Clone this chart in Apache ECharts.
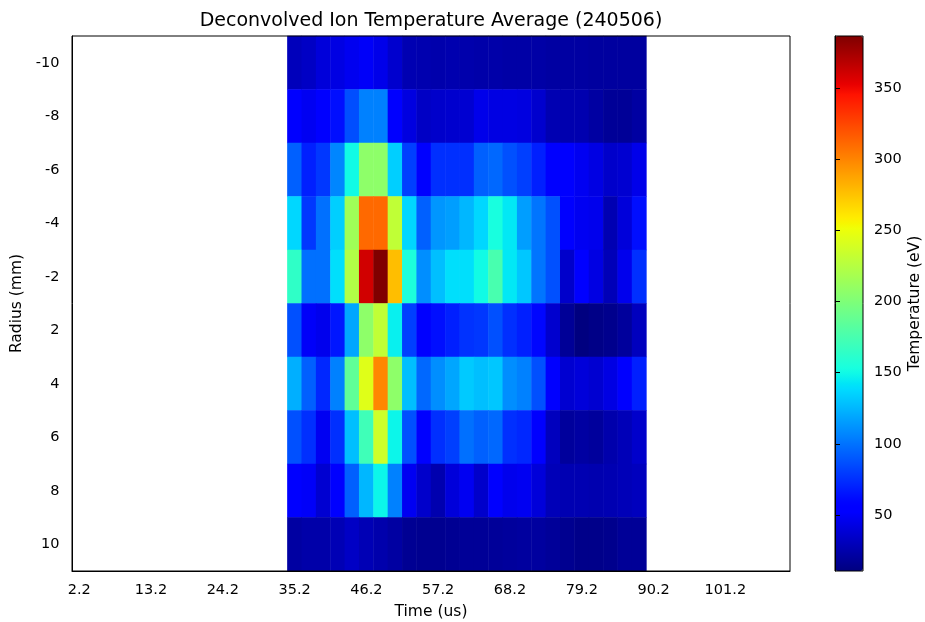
<!DOCTYPE html>
<html>
<head>
<meta charset="utf-8">
<script src="https://cdn.jsdelivr.net/npm/echarts@6/dist/echarts.min.js"></script>
<style>html,body{margin:0;padding:0;background:#fff}#c{width:925px;height:622px}</style>
</head>
<body>
<div id="c"></div>
<script>
// Time axis categories (us)
const timeCategories = ['2.2','4.4','6.6','8.8','11.0','13.2','15.4','17.6','19.8','22.0','24.2','26.4','28.6','30.8','33.0','35.2','37.4','39.6','41.8','44.0','46.2','48.4','50.6','52.8','55.0','57.2','59.4','61.6','63.8','66.0','68.2','70.4','72.6','74.8','77.0','79.2','81.4','83.6','85.8','88.0','90.2','92.4','94.6','96.8','99.0','101.2','103.4','105.6','107.8','110.0'];
// Times that have measurements
const measuredTimes = ['35.2','37.4','39.6','41.8','44.0','46.2','48.4','50.6','52.8','55.0','57.2','59.4','61.6','63.8','66.0','68.2','70.4','72.6','74.8','77.0','79.2','81.4','83.6','85.8','88.0'];
// Radius categories (mm), top to bottom
const radii = ['-10','-8','-6','-4','-2','2','4','6','8','10'];
// Temperature (eV) per radius
const tempM10 = [30,33,40,43,47,50,45,36,27,26,25,26,25,24,24,23,23,23,22,22,22,21,21,21,21];
const tempM8  = [52,48,52,63,86,105,105,52,42,33,35,36,37,45,43,43,42,36,27,26,26,22,18,18,22];
const tempM6  = [93,69,78,107,150,207,207,134,81,52,75,75,75,93,96,87,81,69,52,52,48,43,35,37,45];
const tempM4  = [137,78,99,134,215,311,311,230,137,93,113,116,125,137,153,143,116,101,87,52,48,46,27,40,63];
const tempM2  = [164,99,99,140,223,360,386.5,277,155,110,128,140,140,150,175,143,131,101,87,35,52,43,29,46,75];
const tempP2  = [87,50,46,66,119,207,230,146,81,52,63,69,76,78,87,75,69,60,36,18,10.6,13,15,20,31];
const tempP4  = [122,93,72,105,186,244,299,207,128,96,110,119,132,128,131,110,105,87,52,37,40,37,43,52,69];
const tempP6  = [87,75,48,75,128,171,236,148,87,52,75,81,99,93,96,75,72,52,31,20,22,20,25,29,35];
const tempP8  = [52,50,37,57,93,125,148,105,48,35,26,40,48,35,52,46,48,40,29,27,27,26,27,29,31];
const tempP10 = [22,24,24,28,33,28,25,22,17,16,16,17,18,18,19,20,21,21,19,16,14,14,15,18,18];
// Colorbar ticks
const cbarTicks = [50,100,150,200,250,300,350];

const rows = [tempM10,tempM8,tempM6,tempM4,tempM2,tempP2,tempP4,tempP6,tempP8,tempP10];
const heatData = [];
rows.forEach((row, yi) => {
  row.forEach((v, k) => {
    heatData.push([timeCategories.indexOf(measuredTimes[k]), yi, v]);
  });
});
let vMin = Infinity, vMax = -Infinity;
rows.forEach(r => r.forEach(v => { vMin = Math.min(vMin, v); vMax = Math.max(vMax, v); }));

// matplotlib 'jet' colormap
function interpSeg(seg, t) {
  for (let i = 1; i < seg.length; i++) {
    if (t <= seg[i][0]) {
      const [x0, y0] = seg[i-1], [x1, y1] = seg[i];
      return y0 + (y1 - y0) * (t - x0) / (x1 - x0);
    }
  }
  return seg[seg.length-1][1];
}
const jR = [[0,0],[0.35,0],[0.66,1],[0.89,1],[1,0.5]];
const jG = [[0,0],[0.125,0],[0.375,1],[0.64,1],[0.91,0],[1,0]];
const jB = [[0,0.5],[0.11,1],[0.34,1],[0.65,0],[1,0]];
const jetColors = [];
for (let i = 0; i <= 200; i++) {
  const t = i / 200;
  const c = [jR, jG, jB].map(s => Math.round(255 * interpSeg(s, t)));
  jetColors.push('rgb(' + c.join(',') + ')');
}

const FONT = 'DejaVu Sans';
const txt = { color: '#000', fontFamily: FONT, fontSize: 14.5 };
const nameTxt = { color: '#000', fontFamily: FONT, fontSize: 15.5 };
const chart = echarts.init(document.getElementById('c'), null, { renderer: 'canvas' });
chart.setOption({
  animation: false,
  backgroundColor: '#fff',
  title: {
    text: 'Deconvolved Ion Temperature Average (240506)',
    left: 426, top: 7, textAlign: 'center',
    textStyle: { color: '#000', fontFamily: FONT, fontSize: 19, fontWeight: 'normal' }
  },
  grid: [
    { left: 72, top: 36, width: 718, height: 535, show: true, borderColor: '#000', borderWidth: 1, backgroundColor: 'transparent', z: 10, containLabel: false, outerBoundsMode: 'none' },
    { left: 835, top: 36, width: 28, height: 535, show: true, borderColor: '#000', borderWidth: 1, backgroundColor: 'transparent', z: 10, containLabel: false, outerBoundsMode: 'none' }
  ],
  xAxis: [
    {
      type: 'category', gridIndex: 0, data: timeCategories,
      name: 'Time (us)', nameLocation: 'middle', nameGap: 33,
      nameTextStyle: nameTxt,
      axisLine: { lineStyle: { color: '#000', width: 1 } },
      axisTick: { interval: 4, alignWithLabel: true, length: 5, lineStyle: { color: '#000' } },
      axisLabel: Object.assign({ interval: 4, margin: 12 }, txt),
      splitLine: { show: false }, z: 10
    },
    { type: 'value', gridIndex: 1, min: 0, max: 1, show: false }
  ],
  yAxis: [
    {
      type: 'category', gridIndex: 0, data: radii, inverse: true,
      name: 'Radius (mm)', nameLocation: 'middle', nameGap: 47, nameRotate: 90,
      nameTextStyle: nameTxt,
      axisLine: { lineStyle: { color: '#000', width: 1 } },
      axisTick: { alignWithLabel: true, length: 5, lineStyle: { color: '#000' } },
      axisLabel: Object.assign({ margin: 12.5 }, txt),
      splitLine: { show: false }, z: 10
    },
    {
      type: 'value', gridIndex: 1, min: vMin, max: vMax, position: 'right',
      name: 'Temperature (eV)', nameLocation: 'middle', nameGap: 44, nameRotate: 90,
      nameTextStyle: nameTxt,
      axisLine: { show: true, lineStyle: { color: '#000', width: 1 } },
      axisTick: { show: true, length: 5, customValues: cbarTicks, lineStyle: { color: '#000' } },
      axisLabel: Object.assign({ margin: 11, customValues: cbarTicks }, txt),
      splitLine: { show: false }, z: 10
    }
  ],
  visualMap: {
    type: 'continuous', seriesIndex: 0, min: vMin, max: vMax,
    calculable: false, hoverLink: false,
    orient: 'vertical', left: 835, top: 36, itemWidth: 28, itemHeight: 535, padding: 0,
    inRange: { color: jetColors }, text: null, showLabel: false
  },
  series: [
    {
      type: 'heatmap', xAxisIndex: 0, yAxisIndex: 0, data: heatData,
      itemStyle: { borderWidth: 0 },
      emphasis: { disabled: true }, progressive: 0
    },
    {
      type: 'line', xAxisIndex: 1, yAxisIndex: 1, data: [], silent: true
    }
  ]
});
</script>
</body>
</html>
